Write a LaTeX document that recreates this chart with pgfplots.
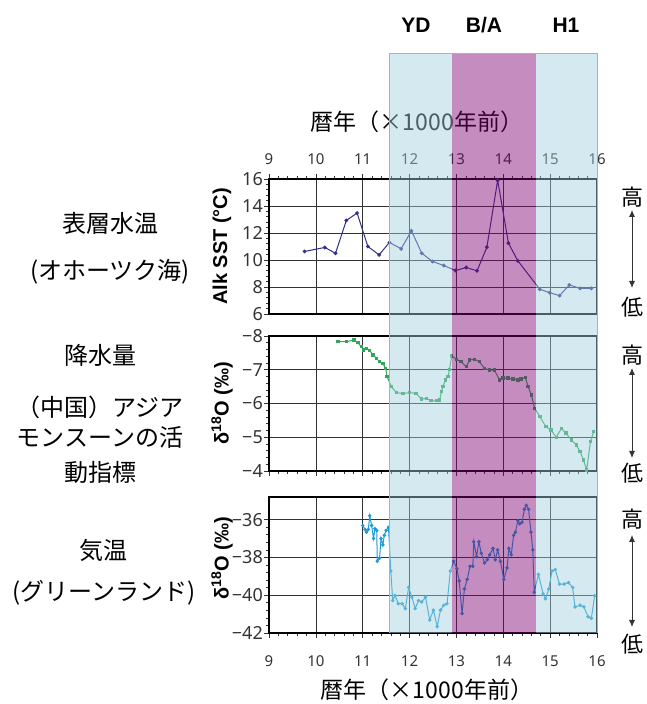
\documentclass[border=0pt]{standalone}
\usepackage{fontspec}
\setmainfont{Liberation Sans}
\newfontfamily\cjk{Noto Sans CJK JP}
\newfontfamily\tickfont{Noto Sans}
\usepackage{pgfplots}
\pgfplotsset{compat=1.18}
\usetikzlibrary{arrows.meta}
\definecolor{navyline}{RGB}{50,50,135}
\definecolor{greenline}{RGB}{50,165,90}
\definecolor{cyanline}{RGB}{30,155,210}
\definecolor{shadeblue}{RGB}{161,209,222}
\definecolor{shadepurple}{RGB}{125,0,112}
\definecolor{edgepink}{RGB}{230,150,165}
\pgfplotsset{
 panel/.style={
  scale only axis, width=328pt, xmin=9, xmax=16, xtick={9,...,16},
  minor x tick num=4, minor y tick num=4,
  grid=major, major grid style={black!80, line width=0.5pt},
  axis line style={black, line width=1.3pt},
  tick style={black!80, line width=0.6pt},
  major tick length=5pt, minor tick length=3pt, tick align=outside,
  ytick pos=left,
  /pgf/number format/assume math mode=true,
  yticklabel style={font=\tickfont\fontsize{18}{20}\selectfont, text=black!80, inner sep=1pt},
  xticklabel style={font=\tickfont\fontsize{15}{17}\selectfont, text=black!80},
  every axis y label/.style={at={(rel axis cs:-0.1433,0.5)}, rotate=90, anchor=center, font=\bfseries\fontsize{20}{22}\selectfont},
 },
}
\begin{document}
\begin{tikzpicture}
\path[use as bounding box] (0pt,0pt) rectangle (647pt,704pt);

% ---------- panel 1 ----------
\begin{axis}[panel, name=ax1, anchor=north west, at={(269pt,525pt)}, height=135pt,
  ymin=6, ymax=16, ytick={6,8,...,16},
  xtick pos=upper, xticklabel pos=upper,
  xticklabel style={yshift=6pt},
  ylabel={Alk SST (°C)}]
\addplot[navyline, line width=1pt, mark=*, mark size=1.4pt] coordinates {
(9.76,10.63) (10.19,10.93) (10.42,10.50) (10.65,12.93) (10.88,13.48)
(11.11,11.00) (11.35,10.38) (11.57,11.30) (11.82,10.83) (12.04,12.16)
(12.26,10.50) (12.49,9.89) (12.73,9.59) (12.98,9.22) (13.21,9.44)
(13.44,9.20) (13.65,10.95) (13.88,15.90) (14.11,11.25) (14.31,9.94)
(14.78,7.83) (14.99,7.58) (15.20,7.36) (15.41,8.15) (15.64,7.90) (15.88,7.90)
};
\end{axis}

% ---------- panel 2 ----------
\begin{axis}[panel, name=ax2, anchor=north west, at={(269pt,368pt)}, height=135pt,
  y dir=reverse, ymin=-8, ymax=-4, ytick={-8,-7,-6,-5,-4},
  yticklabels={−8,−7,−6,−5,−4},
  xtick pos=lower, xticklabels={},
  ylabel={δ\textsuperscript{18}O (‰)}]
\addplot[greenline, line width=1pt, mark=square*, mark size=1.2pt] coordinates {
(10.47,-7.83) (10.65,-7.83) (10.81,-7.88) (10.90,-7.80) (10.97,-7.68)
(11.02,-7.59) (11.08,-7.63) (11.15,-7.57) (11.22,-7.44) (11.29,-7.34)
(11.36,-7.24) (11.43,-7.19) (11.49,-7.04) (11.52,-6.80) (11.61,-6.50)
(11.72,-6.32) (11.86,-6.30) (12.00,-6.32) (12.14,-6.30) (12.25,-6.13)
(12.36,-6.15) (12.46,-6.08) (12.57,-6.08) (12.64,-6.10) (12.68,-6.35)
(12.71,-6.50) (12.77,-6.70) (12.82,-6.80) (12.85,-7.00) (12.90,-7.41)
(13.00,-7.31) (13.10,-7.24) (13.21,-7.09) (13.28,-7.29) (13.39,-7.31)
(13.49,-7.24) (13.60,-7.04) (13.71,-6.99) (13.81,-6.99) (13.92,-6.70)
(13.99,-6.75) (14.10,-6.75) (14.21,-6.72) (14.31,-6.70) (14.38,-6.72)
(14.47,-6.77) (14.53,-6.50) (14.60,-6.25) (14.67,-5.86) (14.78,-5.61)
(14.91,-5.31) (15.02,-5.21) (15.13,-5.00) (15.24,-5.26) (15.34,-5.12)
(15.45,-4.92) (15.56,-4.77) (15.64,-4.57) (15.71,-4.33) (15.78,-4.03)
(15.86,-4.87) (15.93,-5.17)
};
\end{axis}

% ---------- panel 3 ----------
\begin{axis}[panel, name=ax3, anchor=north west, at={(269pt,207pt)}, height=136pt,
  ymin=-42, ymax=-34.8, ytick={-42,-40,-38,-36},
  yticklabels={−42,−40,−38,−36},
  xtick pos=lower,
  xticklabel style={yshift=-14pt},
  ylabel style={at={(rel axis cs:-0.1433,0.55)}},
  ylabel={δ\textsuperscript{18}O (‰)}]
\addplot[cyanline, line width=1pt, mark=*, mark size=1.2pt] coordinates {
(11.00,-36.31) (11.05,-36.52) (11.08,-36.66) (11.12,-36.52) (11.15,-35.79)
(11.19,-36.31) (11.23,-37.00) (11.26,-36.48) (11.30,-36.57) (11.31,-38.20)
(11.36,-38.03) (11.39,-37.00) (11.43,-37.34) (11.46,-36.83) (11.50,-36.57)
(11.55,-36.40) (11.60,-38.72) (11.64,-40.28) (11.69,-40.02) (11.76,-40.45)
(11.84,-40.45) (11.91,-40.71) (11.98,-39.59) (12.05,-40.10) (12.12,-40.71)
(12.19,-40.28) (12.26,-40.36) (12.34,-40.10) (12.43,-41.31) (12.51,-40.79)
(12.59,-41.66) (12.66,-40.79) (12.73,-40.53) (12.80,-40.45) (12.87,-38.72)
(12.94,-38.20) (13.01,-38.59) (13.06,-39.24) (13.12,-40.97) (13.17,-39.67)
(13.23,-39.16) (13.29,-38.47) (13.35,-38.47) (13.37,-37.17) (13.43,-37.95)
(13.48,-37.17) (13.53,-37.78) (13.60,-38.29) (13.66,-38.12) (13.71,-37.86)
(13.78,-37.52) (13.83,-38.12) (13.88,-37.60) (13.94,-38.21) (14.01,-39.16)
(14.08,-38.55) (14.12,-37.52) (14.17,-37.86) (14.22,-36.83) (14.26,-36.66)
(14.31,-36.05) (14.35,-36.22) (14.40,-36.14) (14.45,-35.45) (14.49,-35.24)
(14.54,-35.45) (14.59,-36.66) (14.63,-37.60) (14.66,-39.84) (14.75,-38.90)
(14.85,-39.93) (14.90,-40.19) (14.97,-39.67) (15.04,-38.72) (15.11,-38.64)
(15.20,-39.41) (15.30,-39.41) (15.39,-39.33) (15.48,-39.59) (15.53,-40.62)
(15.64,-40.53) (15.72,-40.62) (15.81,-41.14) (15.88,-41.22) (15.95,-40.02)
};
\coordinate (c1) at (axis cs:11.56,-42);
\coordinate (c2) at (axis cs:12.9,-42);
\coordinate (c3) at (axis cs:14.69,-42);
\coordinate (c4) at (axis cs:16,-42);
\end{axis}

% ---------- titles and labels ----------
\node[font=\cjk\fontsize{23}{26}\selectfont] at (417pt,582pt) {暦年（×1000年前）};
\node[font=\cjk\fontsize{23}{26}\selectfont] at (427pt,14pt) {暦年（×1000年前）};

\begin{scope}[every node/.style={font=\cjk\fontsize{24}{28}\selectfont}]
\node at (110pt,481pt) {表層水温};
\node at (110pt,432pt) {(オホーツク海)};
\node at (100pt,349pt) {降水量};
\node at (100pt,297pt) {（中国）アジア};
\node at (100pt,267pt) {モンスーンの活};
\node at (100pt,232pt) {動指標};
\node at (103pt,154pt) {気温};
\node at (104pt,111pt) {(グリーンランド)};
\end{scope}

\begin{scope}[every node/.style={font=\cjk\fontsize{22}{24}\selectfont}]
\node at (632pt,507pt) {高};
\node at (632pt,397pt) {低};
\node at (632pt,349pt) {高};
\node at (632pt,231pt) {低};
\node at (632pt,185pt) {高};
\node at (632pt,60pt) {低};
\end{scope}
\draw[black!80, line width=0.9pt, {Latex[length=7pt,width=6pt]}-{Latex[length=7pt,width=6pt]}] (632pt,494pt) -- (632pt,416pt);
\draw[black!80, line width=0.9pt, {Latex[length=7pt,width=6pt]}-{Latex[length=7pt,width=6pt]}] (632pt,336pt) -- (632pt,246pt);
\draw[black!80, line width=0.9pt, {Latex[length=7pt,width=6pt]}-{Latex[length=7pt,width=6pt]}] (632pt,169pt) -- (632pt,77pt);

\begin{scope}[every node/.style={font=\bfseries\fontsize{21}{24}\selectfont}]
\node at (416pt,679pt) {YD};
\node at (484pt,679pt) {B/A};
\node at (566pt,679pt) {H1};
\end{scope}

% ---------- period shading ----------
\coordinate (top) at (0pt,651pt);
\fill[shadeblue, fill opacity=0.45] (c1) rectangle (c2 |- top);
\fill[shadepurple, fill opacity=0.45] (c2) rectangle (c3 |- top);
\fill[shadeblue, fill opacity=0.45] (c3) rectangle (c4 |- top);
\draw[edgepink, line width=0.8pt] (c1) -- (c1 |- top) -- (c4 |- top) -- (c4);
\end{tikzpicture}
\end{document}
